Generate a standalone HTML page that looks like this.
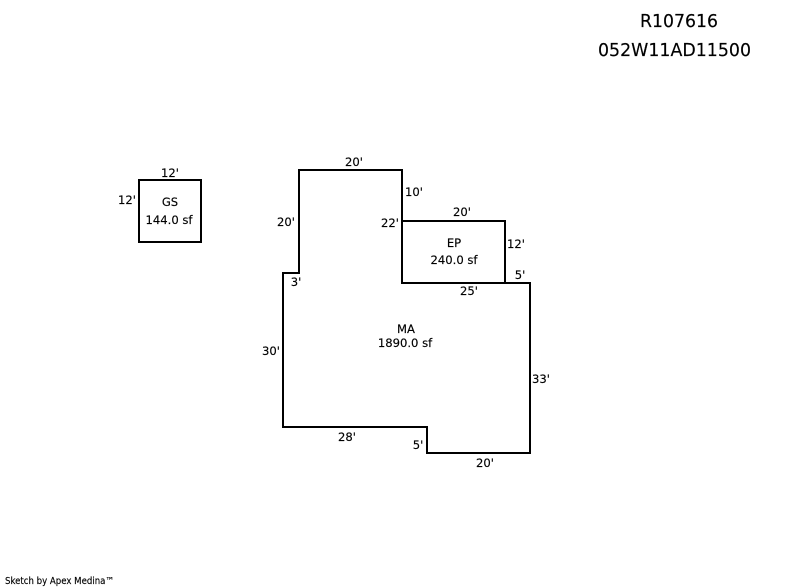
<!DOCTYPE html>
<html>
<head>
<meta charset="utf-8">
<style>
html,body{margin:0;padding:0;background:#fff;width:800px;height:587px;overflow:hidden}
svg{display:block}
text{font-family:"DejaVu Sans","Liberation Sans",sans-serif;font-size:11.6px;fill:#000;stroke:#000;stroke-width:.15px}
</style>
</head>
<body>
<svg width="800" height="587" viewBox="0 0 800 587" xmlns="http://www.w3.org/2000/svg">
<rect width="800" height="587" fill="#fff"/>
<g fill="none" stroke="#000" stroke-width="2" shape-rendering="crispEdges" stroke-linecap="square">
<path d="M139 180H201V242H139Z"/>
<path d="M299 170H402V283H530V453H427V427H283V273H299Z"/>
<path d="M402 221H505V283"/>
</g>
<text x="640" y="27" style="font-size:17.5px" textLength="78" lengthAdjust="spacingAndGlyphs">R107616</text>
<text x="598" y="56" style="font-size:17.5px" textLength="153" lengthAdjust="spacingAndGlyphs">052W11AD11500</text>

<text x="170" y="177" text-anchor="middle">12'</text>
<text x="127" y="204" text-anchor="middle">12'</text>
<text x="170" y="206" text-anchor="middle">GS</text>
<text x="169" y="224" text-anchor="middle">144.0 sf</text>

<text x="354" y="166" text-anchor="middle">20'</text>
<text x="414" y="196" text-anchor="middle">10'</text>
<text x="390" y="227" text-anchor="middle">22'</text>
<text x="462" y="216" text-anchor="middle">20'</text>
<text x="516" y="248" text-anchor="middle">12'</text>
<text x="454" y="247" text-anchor="middle">EP</text>
<text x="454" y="264" text-anchor="middle">240.0 sf</text>
<text x="520" y="279" text-anchor="middle">5'</text>
<text x="469" y="295" text-anchor="middle">25'</text>
<text x="286" y="226" text-anchor="middle">20'</text>
<text x="296" y="286" text-anchor="middle">3'</text>
<text x="271" y="355" text-anchor="middle">30'</text>
<text x="406" y="333" text-anchor="middle">MA</text>
<text x="405" y="347" text-anchor="middle">1890.0 sf</text>
<text x="541" y="383" text-anchor="middle">33'</text>
<text x="347" y="441" text-anchor="middle">28'</text>
<text x="418" y="449" text-anchor="middle">5'</text>
<text x="485" y="467" text-anchor="middle">20'</text>
<text x="5" y="584" style="font-size:9.5px" textLength="109" lengthAdjust="spacingAndGlyphs">Sketch by Apex Medina™</text>
</svg>
</body>
</html>
